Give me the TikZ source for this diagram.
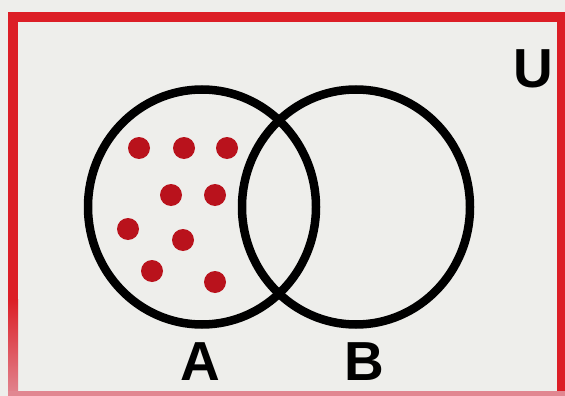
\documentclass[tikz,border=0pt]{standalone}
\usepackage{fontspec}
\setmainfont{Liberation Sans}
\usepackage{xcolor}
\usepackage{tikz}
\usetikzlibrary{shapes.geometric}

\definecolor{paper}{RGB}{238,238,235}
\definecolor{frame}{RGB}{220,30,38}
\definecolor{framefade}{RGB}{225,135,145}
\definecolor{dotred}{RGB}{185,18,28}

\begin{document}
\begin{tikzpicture}[
    x=1pt, y=-1pt,
    setring/.style={draw=black, line width=8.5pt, ellipse, inner sep=0pt, minimum width=228pt, minimum height=235pt},
    element/.style={circle, fill=dotred, inner sep=0pt, minimum size=22pt},
    setname/.style={font=\fontsize{55}{55}\selectfont\bfseries, inner sep=0pt}
]
    % Paper and universe frame
    \useasboundingbox (0,0) rectangle (565,396);
    \fill[paper] (0,0) rectangle (565,396);
    \fill[frame] (8,12) rectangle (565,22);
    \fill[frame] (557,12) rectangle (565,396);
    \fill[frame] (8,12) rectangle (18,300);
    \shade[top color=frame, bottom color=framefade] (8,299) rectangle (18,396);
    \fill[framefade] (8,391) rectangle (565,396);

    % Sets
    \node[setring] (setA) at (202,207) {};
    \node[setring] (setB) at (356,207) {};

    % Elements of A only
    \foreach \px/\py [count=\i] in {139/148, 184/148, 227/148, 171/195, 215/195,
                                     128/229, 183/240, 152/271, 215/282}
        \node[element] (elem\i) at (\px,\py) {};

    % Labels
    \node[setname] (labA) at (200,362) {A};
    \node[setname] (labB) at (364,362) {B};
    \node[setname] (labU) at (533,69) {U};
\end{tikzpicture}
\end{document}
